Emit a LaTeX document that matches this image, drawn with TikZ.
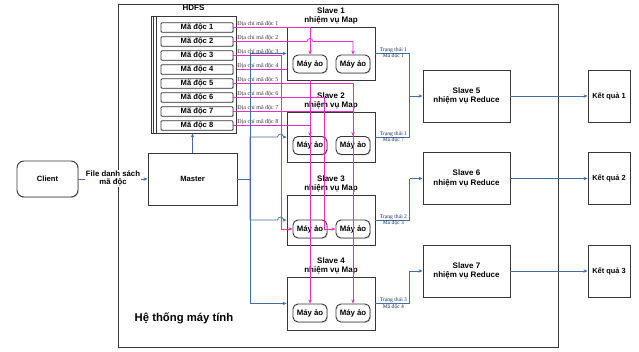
\documentclass[tikz,border=0pt]{standalone}
\usepackage{fontspec}
\setmainfont{Liberation Sans}
\newfontfamily\serifsmall{Liberation Serif}
\usetikzlibrary{arrows.meta,shadows,backgrounds}
\definecolor{conblue}{RGB}{70,110,165}
\definecolor{conpink}{RGB}{232,45,200}
\definecolor{boxline}{RGB}{55,55,55}
\definecolor{statc}{RGB}{30,45,100}
\begin{document}
\begin{tikzpicture}[x=1pt,y=-1pt,
 sh/.style={drop shadow={shadow xshift=0.9pt,shadow yshift=-0.9pt,opacity=0.3}},
 box/.style={draw=boxline,line width=0.9pt,fill=white,align=center,inner sep=1pt,font=\bfseries\fontsize{8}{9.4}\selectfont,sh},
 mabox/.style={box,minimum width=72pt,minimum height=9.5pt,rounded corners=1pt,line width=0.8pt,font=\bfseries\fontsize{7.6}{8}\selectfont},
 vm/.style={box,minimum width=34pt,minimum height=18pt,rounded corners=5pt,font=\bfseries\fontsize{7.8}{8.4}\selectfont},
 resbox/.style={box,minimum width=42pt,minimum height=52pt,inner sep=0pt,font=\bfseries\fontsize{7.4}{8.4}\selectfont},
 sltitle/.style={align=center,font=\bfseries\fontsize{8}{9.2}\selectfont,inner sep=0pt},
 addr/.style={font=\serifsmall\fontsize{6}{7}\selectfont,text=black!80,inner sep=0.3pt,anchor=south west},
 stat/.style={font=\serifsmall\fontsize{5.6}{6.5}\selectfont,text=statc,inner sep=0.4pt},
 bl/.style={draw=conblue,line width=0.7pt},
 bla/.style={bl,-{Stealth[length=4pt,width=3.4pt]}},
 pkl/.style={draw=conpink,line width=0.7pt},
 pk/.style={pkl,-{Stealth[length=4pt,width=3.4pt]}},
]
\useasboundingbox (0,0) rectangle (639,351);
\begin{pgfonlayer}{background}
\fill[white] (0,0) rectangle (639,351);
\end{pgfonlayer}

% system frame
\node[draw=boxline,line width=0.9pt,minimum width=440pt,minimum height=343pt,inner sep=0pt] (sys) at (338,175.5) {};
\node[font=\bfseries\fontsize{11.3}{13}\selectfont] (syslbl) at (184,318) {Hệ thống máy tính};

% client and master
\node[box,rounded corners=7pt,minimum width=61pt,minimum height=36pt,font=\bfseries\fontsize{7.6}{9}\selectfont] (client) at (47.5,179) {Client};
\node[box,minimum width=89pt,minimum height=52pt,font=\bfseries\fontsize{7.6}{9}\selectfont] (master) at (192.5,179) {Master};

% HDFS
\node[sltitle] (hl) at (193.5,8) {HDFS};
\node[draw=boxline,line width=0.9pt,fill=white,minimum width=85pt,minimum height=117pt,inner sep=0pt,sh] (hdfs) at (193.5,74.5) {};
\draw[boxline,line width=0.6pt] ([xshift=2.8pt]hdfs.north west) -- ([xshift=2.8pt]hdfs.south west);
\draw[boxline,line width=0.6pt] ([xshift=5.3pt]hdfs.north west) -- ([xshift=5.3pt]hdfs.south west);
\foreach \i in {1,...,8} {
  \node[mabox] (m\i) at (197,{27.5+14*(\i-1)}) {Mã độc \i};
  \node[addr] (a\i) at ([xshift=3.5pt,yshift=0.6pt]m\i.east) {Địa chỉ mã độc \i};
}

% map slaves
\node[box,minimum width=88pt,minimum height=53pt] (s1) at (331,53.5) {};
\node[box,minimum width=88pt,minimum height=50pt] (s2) at (331,137) {};
\node[box,minimum width=88pt,minimum height=50pt] (s3) at (331,220) {};
\node[box,minimum width=88pt,minimum height=53pt] (s4) at (331,303.5) {};
\node[sltitle,anchor=south] (t1) at ([yshift=2pt]s1.north) {Slave 1\\nhiệm vụ Map};
\node[sltitle,anchor=south] (t2) at ([yshift=2pt]s2.north) {Slave 2\\nhiệm vụ Map};
\node[sltitle,anchor=south] (t3) at ([yshift=2pt]s3.north) {Slave 3\\nhiệm vụ Map};
\node[sltitle,anchor=south] (t4) at ([yshift=2pt]s4.north) {Slave 4\\nhiệm vụ Map};
\node[vm] (v11) at (310,64) {Máy ảo};
\node[vm] (v12) at (353,64) {Máy ảo};
\node[vm] (v21) at (310,145.5) {Máy ảo};
\node[vm] (v22) at (353,145.5) {Máy ảo};
\node[vm] (v31) at (310,229) {Máy ảo};
\node[vm] (v32) at (353,229) {Máy ảo};
\node[vm] (v41) at (310,313) {Máy ảo};
\node[vm] (v42) at (353,313) {Máy ảo};

% reduce slaves and results
\node[box,minimum width=87pt,minimum height=52pt] (r5) at (466.5,96) {Slave 5\\nhiệm vụ Reduce};
\node[box,minimum width=87pt,minimum height=52pt] (r6) at (466.5,178.5) {Slave 6\\nhiệm vụ Reduce};
\node[box,minimum width=87pt,minimum height=52pt] (r7) at (466.5,271) {Slave 7\\nhiệm vụ Reduce};
\node[resbox] (k1) at (609,96) {Kết quả 1};
\node[resbox] (k2) at (609,178.5) {Kết quả 2};
\node[resbox] (k3) at (609,271) {Kết quả 3};

% client -> master
\draw[bla] (client) -- (master);
\node[fill=white,align=center,inner sep=0.6pt,font=\bfseries\fontsize{7.8}{8.4}\selectfont] (flbl) at (113,178.5) {File danh sách\\mã độc};

% master -> hdfs
\draw[bla] (master.north) -- (master.north |- hdfs.south);

% pink address routes
\coordinate (c3) at (281,0);
\coordinate (c6) at (324,0);
\begin{pgfonlayer}{background}
\draw[pkl] (m4.east) -| (s1.south -| v11.north);
\end{pgfonlayer}
\draw[pk] (s1.south -| v11.north) -- (v21.north);
\draw[pk] (m1.east) -| (v11.north);
\draw[pk] (m2.east) -- ([xshift=-3pt]m2.east -| v11.north) arc[start angle=180,end angle=0,radius=3pt] -| (v12.north);
\draw[pk] (m3.east) -- (m3.east -| c3) |- (v31.west);
\draw[pk] (m5.east) -| (v22.north);
\draw[pk] (m6.east) -- (m6.east -| c6) |- (v32.west);
\draw[pk] (m7.east) -| (v42.north);
\draw[pk] (m8.east) -| (v41.north);

% master -> map slaves
\coordinate (mj) at (250,179);
\draw[bl] (master.east) -- (mj);
\draw[bla] (mj) |- (s1.west);
\draw[bla] (mj) |- ([xshift=-9pt]s2.west) arc[start angle=180,end angle=0,radius=3pt] -- (s2.west);
\draw[bla] (mj) |- ([xshift=-9pt]s3.west) arc[start angle=180,end angle=0,radius=3pt] -- (s3.west);
\draw[bla] (mj) |- (s4.west);

% map -> reduce
\coordinate (j5) at ([xshift=-13pt]r5.west);
\coordinate (j6) at ([xshift=-13pt]r6.west);
\coordinate (j7) at ([xshift=-13pt]r7.west);
\draw[bl] (s1.east) -| (j5);
\draw[bl] (s2.east) -| (j5);
\draw[bla] (j5) -- (r5.west);
\draw[bl] (s3.east) -| (j6);
\draw[bla] (j6) -- (r6.west);
\draw[bl] (s4.east) -| (j7);
\draw[bla] (j7) -- (r7.west);
\node[stat,anchor=south] (st1) at ([xshift=18pt]s1.east) {Trạng thái 1};
\node[stat,anchor=north] (sm1) at ([xshift=18pt]s1.east) {Mã độc 1};
\node[stat,anchor=south] (st2) at ([xshift=18pt]s2.east) {Trạng thái 1};
\node[stat,anchor=north] (sm2) at ([xshift=18pt]s2.east) {Mã độc 7};
\node[stat,anchor=south] (st3) at ([xshift=18pt]s3.east) {Trạng thái 2};
\node[stat,anchor=north] (sm3) at ([xshift=18pt]s3.east) {Mã độc 3};
\node[stat,anchor=south] (st4) at ([xshift=18pt]s4.east) {Trạng thái 3};
\node[stat,anchor=north] (sm4) at ([xshift=18pt]s4.east) {Mã độc 4};

% reduce -> results
\draw[bla] (r5) -- (k1);
\draw[bla] (r6) -- (k2);
\draw[bla] (r7) -- (k3);
\end{tikzpicture}
\end{document}
